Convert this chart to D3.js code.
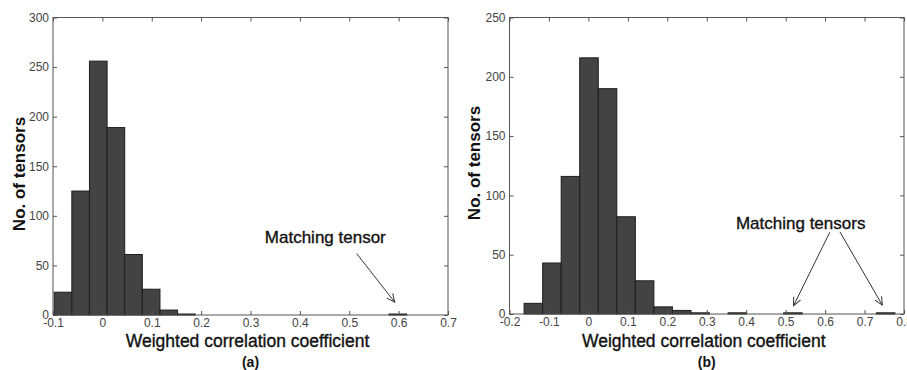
<!DOCTYPE html>
<html>
<head>
<meta charset="UTF-8">
<title>Weighted correlation histograms</title>
<style>
    body {
        margin: 0;
        background: #fff;
    }
    .tick text {
        font: 12px "Liberation Sans", Arial, sans-serif;
        fill: #444;
    }
    .tick line, .domain {
        stroke: #555;
    }
    .frame {
        fill: none;
        stroke: #555;
        stroke-width: 1;
    }
    rect.bar {
        fill: #434343;
        stroke: #1e1e1e;
        stroke-width: 1;
    }
    text.xlabel {
        font: 17.5px "Liberation Sans", Arial, sans-serif;
        fill: #111;
        stroke: #111;
        stroke-width: 0.35;
    }
    text.ylabel {
        font: bold 17px "Liberation Sans", Arial, sans-serif;
        fill: #111;
    }
    text.panel {
        font: bold 14px "Liberation Sans", Arial, sans-serif;
        fill: #111;
    }
    text.note {
        font: 17px "Liberation Sans", Arial, sans-serif;
        fill: #111;
        stroke: #111;
        stroke-width: 0.35;
    }
    line.arrow {
        stroke: #333;
        stroke-width: 1;
    }
</style>
</head>
<body>
<script src="https://cdnjs.cloudflare.com/ajax/libs/d3/7.8.5/d3.min.js"></script>
<script>

    // panel (a): 20 bins
    var binCentersA = [-0.0797, -0.0440, -0.0083, 0.0274, 0.0631, 0.0988, 0.1345, 0.1702, 0.2059, 0.2416,
                       0.2773, 0.3130, 0.3487, 0.3844, 0.4201, 0.4558, 0.4915, 0.5272, 0.5629, 0.5986];
    var countsA = [23, 125, 256, 189, 61, 26, 5, 1, 0, 0, 0, 0, 0, 0, 0, 0, 0, 0, 0, 1];
    var binWidthA = 0.0357;
    var xTicksA = [-0.1, 0, 0.1, 0.2, 0.3, 0.4, 0.5, 0.6, 0.7];
    var yTicksA = [0, 50, 100, 150, 200, 250, 300];
    var notesA = [{text: "Matching tensor", x: 0.329, y: 72.5}];
    var arrowsA = [{x1: 0.515, y1: 62, x2: 0.592, y2: 13}];

    // panel (b): 20 bins
    var binCentersB = [-0.1395, -0.0925, -0.0455, 0.0015, 0.0485, 0.0955, 0.1425, 0.1895, 0.2365, 0.2835,
                       0.3305, 0.3775, 0.4245, 0.4715, 0.5185, 0.5655, 0.6125, 0.6595, 0.7065, 0.7535];
    var countsB = [9, 43, 116, 216, 190, 82, 28, 6, 3, 1, 0, 1, 0, 0, 1, 0, 0, 0, 0, 1];
    var binWidthB = 0.047;
    var xTicksB = [-0.2, -0.1, 0, 0.1, 0.2, 0.3, 0.4, 0.5, 0.6, 0.7, 0.8];
    var yTicksB = [0, 50, 100, 150, 200, 250];
    var notesB = [{text: "Matching tensors", x: 0.374, y: 72}];
    var arrowsB = [{x1: 0.612, y1: 69, x2: 0.52, y2: 7},
                   {x1: 0.638, y1: 69, x2: 0.745, y2: 7.5}];

    var xLabel = "Weighted correlation coefficient";
    var yLabel = "No. of tensors";

    var svg = d3.select("body").append("svg")
            .attr("width", 907)
            .attr("height", 370);

    svg.append("rect").attr("width", 907).attr("height", 370).attr("fill", "#fff");

    var defs = svg.append("defs");
    defs.append("marker")
            .attr("id", "head")
            .attr("viewBox", "-10 -6 12 12")
            .attr("refX", 0)
            .attr("refY", 0)
            .attr("markerUnits", "userSpaceOnUse")
            .attr("markerWidth", 12)
            .attr("markerHeight", 12)
            .attr("orient", "auto")
            .append("path")
            .attr("d", "M-8,-3.8L0,0L-8,3.8")
            .attr("fill", "none")
            .attr("stroke", "#333")
            .attr("stroke-width", 1);

    var fmt = function (d) { return d === 0 ? "0" : String(+d.toFixed(1)); };

    function panel(o) {
        var x = d3.scaleLinear().domain(o.xDomain).range([o.left, o.right]);
        var y = d3.scaleLinear().domain(o.yDomain).range([o.bottom, o.top]);
        var g = svg.append("g");

        // bars
        var bins = o.centers.map(function (c, i) { return {c: c, n: o.counts[i]}; })
                .filter(function (d) { return d.n > 0; });
        g.selectAll("rect.bar").data(bins).enter().append("rect")
                .attr("class", "bar")
                .attr("x", function (d) { return x(d.c - o.binWidth / 2); })
                .attr("width", function (d) { return x(d.c + o.binWidth / 2) - x(d.c - o.binWidth / 2); })
                .attr("y", function (d) { return y(d.n); })
                .attr("height", function (d) { return y(0) - y(d.n); });

        // axes, ticks pointing inward on all four sides
        g.append("g").attr("transform", "translate(0," + o.bottom + ")")
                .call(d3.axisBottom(x).tickValues(o.xTicks).tickFormat(fmt).tickSize(-4).tickPadding(3));
        g.append("g").attr("transform", "translate(" + o.left + ",0)")
                .call(d3.axisLeft(y).tickValues(o.yTicks).tickFormat(d3.format("d")).tickSize(-4).tickPadding(4));
        g.append("g").attr("transform", "translate(0," + o.top + ")")
                .call(d3.axisTop(x).tickValues(o.xTicks).tickFormat("").tickSize(-4));
        g.append("g").attr("transform", "translate(" + o.right + ",0)")
                .call(d3.axisRight(y).tickValues(o.yTicks).tickFormat("").tickSize(-4));
        g.selectAll(".domain").remove();

        g.append("rect").attr("class", "frame")
                .attr("x", o.left).attr("y", o.top)
                .attr("width", o.right - o.left).attr("height", o.bottom - o.top);

        // labels
        var cx = (o.left + o.right) / 2;
        g.append("text").attr("class", "xlabel")
                .attr("x", cx - 3).attr("y", 347)
                .attr("text-anchor", "middle").text(xLabel);
        g.append("text").attr("class", "panel")
                .attr("x", cx).attr("y", 367)
                .attr("text-anchor", "middle").text(o.tag);
        g.append("text").attr("class", "ylabel")
                .attr("transform", "translate(" + o.ylabelX + "," + o.ylabelY + ") rotate(-90)")
                .attr("text-anchor", "middle").text(yLabel);

        // annotations
        g.selectAll("text.note").data(o.notes).enter().append("text")
                .attr("class", "note")
                .attr("x", function (d) { return x(d.x); })
                .attr("y", function (d) { return y(d.y); })
                .text(function (d) { return d.text; });
        g.selectAll("line.arrow").data(o.arrows).enter().append("line")
                .attr("class", "arrow")
                .attr("x1", function (d) { return x(d.x1); })
                .attr("y1", function (d) { return y(d.y1); })
                .attr("x2", function (d) { return x(d.x2); })
                .attr("y2", function (d) { return y(d.y2); })
                .attr("marker-end", "url(#head)");
    }

    panel({
        left: 53, right: 448, top: 17.5, bottom: 315,
        xDomain: [-0.1, 0.7], yDomain: [0, 300],
        centers: binCentersA, counts: countsA, binWidth: binWidthA,
        xTicks: xTicksA, yTicks: yTicksA,
        notes: notesA, arrows: arrowsA,
        tag: "(a)", ylabelX: 25, ylabelY: 174
    });

    panel({
        left: 509.5, right: 904, top: 17.5, bottom: 314,
        xDomain: [-0.2, 0.8], yDomain: [0, 250],
        centers: binCentersB, counts: countsB, binWidth: binWidthB,
        xTicks: xTicksB, yTicks: yTicksB,
        notes: notesB, arrows: arrowsB,
        tag: "(b)", ylabelX: 480, ylabelY: 163
    });
</script>
</body>
</html>
